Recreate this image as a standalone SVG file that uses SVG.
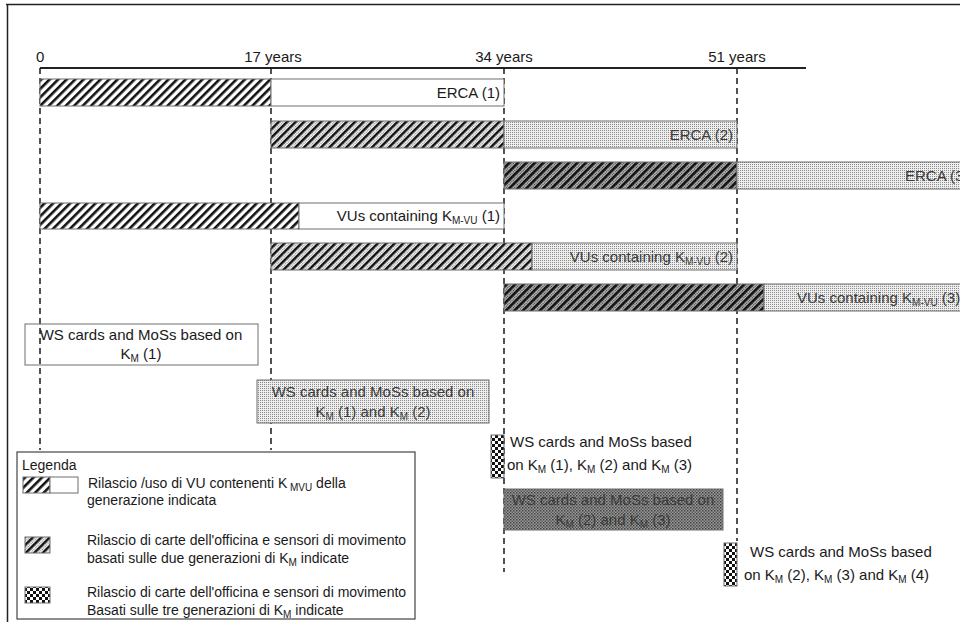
<svg xmlns="http://www.w3.org/2000/svg" width="960" height="622" viewBox="0 0 960 622">
<defs>
<pattern id="dt" patternUnits="userSpaceOnUse" width="2" height="2"><rect width="2" height="2" fill="#eeeeee"/><rect width="1" height="1" fill="#8a8a8a"/></pattern>
<pattern id="dt2" patternUnits="userSpaceOnUse" width="2" height="2"><rect width="2" height="2" fill="#b0b0b0"/><rect width="1" height="1" fill="#3a3a3a"/></pattern>
<pattern id="dt3" patternUnits="userSpaceOnUse" width="3" height="3"><rect width="3" height="3" fill="#9a9a9a"/><rect width="1.5" height="1.5" fill="#404040"/><rect x="1.5" y="1.5" width="1.5" height="1.5" fill="#5a5a5a"/></pattern>
<pattern id="hA" patternUnits="userSpaceOnUse" width="6" height="6" patternTransform="rotate(45)"><rect width="6" height="6" fill="#fff"/><rect width="2.6" height="6" fill="#111"/></pattern>
<pattern id="hB" patternUnits="userSpaceOnUse" width="6" height="6" patternTransform="rotate(45)"><rect width="6" height="6" fill="url(#dt)"/><rect width="2.4" height="6" fill="#111"/></pattern>
<pattern id="hC" patternUnits="userSpaceOnUse" width="6" height="6" patternTransform="rotate(45)"><rect width="6" height="6" fill="url(#dt2)"/><rect width="2.6" height="6" fill="#111"/></pattern>
<pattern id="ck" patternUnits="userSpaceOnUse" width="6" height="6"><rect width="6" height="6" fill="#fff"/><rect width="3" height="3" fill="#111"/><rect x="3" y="3" width="3" height="3" fill="#111"/></pattern>
</defs>
<style>
text{font-family:"Liberation Sans",Arial,sans-serif;font-size:15px;fill:#1a1a1a}
.lg{font-size:14px}
.dim{fill:#3a3a3a}
.bar{stroke:#6e6e6e;stroke-width:1}
.guide{stroke:#1a1a1a;stroke-width:1.5;stroke-dasharray:6 4;fill:none}
.sub{font-size:10px}
</style>
<rect width="960" height="622" fill="#fff"/>
<g id="frame" fill="none" stroke="#222" stroke-width="1.5">
<path d="M6 4.5H960M7.5 4V622"/>
</g>
<g id="axis">
<path d="M40 68H806" stroke="#222" stroke-width="2.2"/>
<text x="36" y="62">0</text>
<text x="273" y="62" text-anchor="middle">17 years</text>
<text x="504" y="62" text-anchor="middle">34 years</text>
<text x="737" y="62" text-anchor="middle">51 years</text>
</g>
<g id="connectors">
<path class="guide" d="M40 68V450M271 68V450M504 68V572M737 68V541"/>
</g>
<g id="erca1">
<rect class="bar" x="40" y="79" width="231" height="27" fill="url(#hA)"/>
<rect class="bar" x="271" y="79" width="233" height="27" fill="#fff"/>
<text x="500" y="98" text-anchor="end">ERCA (1)</text>
</g>
<g id="erca2">
<rect class="bar" x="271" y="121" width="233" height="27" fill="url(#hB)"/>
<rect class="bar" x="504" y="121" width="233" height="27" fill="url(#dt)"/>
<text class="dim" x="733" y="140" text-anchor="end">ERCA (2)</text>
</g>
<g id="erca3">
<rect class="bar" x="504" y="162" width="233" height="27" fill="url(#hC)"/>
<rect class="bar" x="737" y="162" width="230" height="27" fill="url(#dt)"/>
<text class="dim" x="905" y="181">ERCA (3)</text>
</g>
<g id="vu1">
<rect class="bar" x="40" y="203" width="259" height="26" fill="url(#hA)"/>
<rect class="bar" x="299" y="203" width="205" height="26" fill="#fff"/>
<text x="500" y="221" text-anchor="end">VUs containing  K<tspan class="sub" dy="3">M-VU</tspan><tspan dy="-3"> (1)</tspan></text>
</g>
<g id="vu2">
<rect class="bar" x="271" y="243" width="261" height="27" fill="url(#hB)"/>
<rect class="bar" x="532" y="243" width="205" height="27" fill="url(#dt)"/>
<text class="dim" x="733" y="262" text-anchor="end">VUs containing  K<tspan class="sub" dy="3">M-VU</tspan><tspan dy="-3"> (2)</tspan></text>
</g>
<g id="vu3">
<rect class="bar" x="504" y="284" width="260" height="27" fill="url(#hC)"/>
<rect class="bar" x="764" y="284" width="203" height="27" fill="url(#dt)"/>
<text class="dim" x="797" y="303">VUs containing  K<tspan class="sub" dy="3">M-VU</tspan><tspan dy="-3"> (3)</tspan></text>
</g>
<g id="ws1">
<rect class="bar" x="25" y="324" width="233" height="41" fill="none"/>
<text x="141" y="340" text-anchor="middle">WS cards and MoSs based on</text>
<text x="141" y="359" text-anchor="middle">K<tspan class="sub" dy="3">M</tspan><tspan dy="-3"> (1)</tspan></text>
</g>
<g id="ws2">
<rect class="bar" x="257" y="380" width="232" height="43" fill="url(#dt)"/>
<text class="dim" x="373" y="397" text-anchor="middle">WS cards and MoSs  based on</text>
<text class="dim" x="373" y="417" text-anchor="middle">K<tspan class="sub" dy="3">M</tspan><tspan dy="-3"> (1) and K</tspan><tspan class="sub" dy="3">M</tspan><tspan dy="-3"> (2)</tspan></text>
</g>
<g id="ws3">
<rect class="bar" x="491" y="435" width="13" height="43" fill="url(#ck)"/>
<text x="510" y="447">WS cards and MoSs based</text>
<text x="507" y="470">on K<tspan class="sub" dy="3">M</tspan><tspan dy="-3"> (1), K</tspan><tspan class="sub" dy="3">M</tspan><tspan dy="-3"> (2) and K</tspan><tspan class="sub" dy="3">M</tspan><tspan dy="-3"> (3)</tspan></text>
</g>
<g id="ws4">
<rect class="bar" x="504" y="489" width="219" height="41" fill="url(#dt3)"/>
<text class="dim" x="613" y="505" text-anchor="middle">WS cards and MoSs based on</text>
<text class="dim" x="613" y="525" text-anchor="middle">K<tspan class="sub" dy="3">M</tspan><tspan dy="-3"> (2) and K</tspan><tspan class="sub" dy="3">M</tspan><tspan dy="-3"> (3)</tspan></text>
</g>
<g id="ws5">
<rect class="bar" x="724" y="543" width="13" height="43" fill="url(#ck)"/>
<text x="750" y="557">WS cards and MoSs based</text>
<text x="744" y="580">on K<tspan class="sub" dy="3">M</tspan><tspan dy="-3"> (2), K</tspan><tspan class="sub" dy="3">M</tspan><tspan dy="-3"> (3) and K</tspan><tspan class="sub" dy="3">M</tspan><tspan dy="-3"> (4)</tspan></text>
</g>
<g id="legend">
<rect x="17" y="452" width="398" height="167" fill="#fff" stroke="#444" stroke-width="1.2"/>
<text x="22" y="470" class="lg">Legenda</text>
<rect class="bar" x="23" y="477" width="27" height="16" fill="url(#hA)"/>
<rect class="bar" x="50" y="477" width="28" height="16" fill="#fff"/>
<text class="lg" x="88" y="488"> Rilascio /uso di VU contenenti K<tspan class="sub" dy="3"> MVU</tspan><tspan dy="-3"> della</tspan></text>
<text class="lg" x="87" y="505">generazione indicata</text>
<rect class="bar" x="25" y="537" width="25" height="16" fill="url(#hB)"/>
<text class="lg" x="87" y="545">Rilascio di carte dell'officina e sensori di movimento</text>
<text class="lg" x="87" y="563">basati sulle due generazioni di K<tspan class="sub" dy="3">M</tspan><tspan dy="-3"> indicate</tspan></text>
<rect class="bar" x="25" y="587" width="25" height="16" fill="url(#ck)"/>
<text class="lg" x="87" y="597">Rilascio di carte dell'officina e sensori di movimento</text>
<text class="lg" x="87" y="615">Basati sulle tre generazioni di K<tspan class="sub" dy="3">M</tspan><tspan dy="-3">  indicate</tspan></text>
</g>
</svg>
